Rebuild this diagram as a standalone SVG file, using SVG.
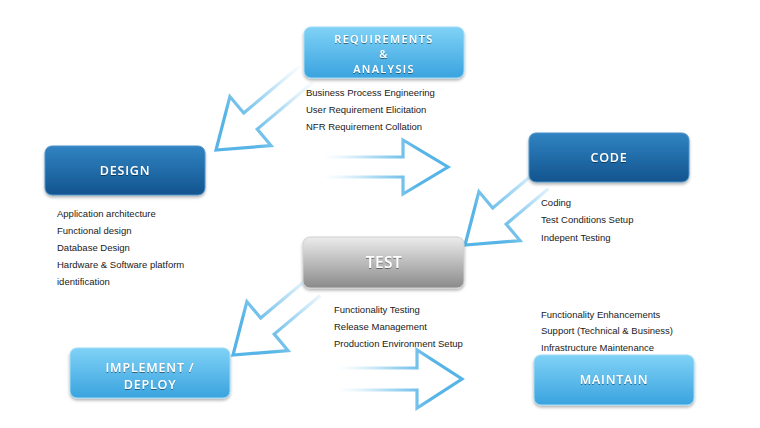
<svg xmlns="http://www.w3.org/2000/svg" width="760" height="428" viewBox="0 0 760 428">
<defs>
<linearGradient id="gLight" x1="0" y1="0" x2="0" y2="1">
<stop offset="0" stop-color="#7fd2f6"/><stop offset="1" stop-color="#3aa3df"/>
</linearGradient>
<linearGradient id="gDark" x1="0" y1="0" x2="0" y2="1">
<stop offset="0" stop-color="#3183c2"/><stop offset="1" stop-color="#12548e"/>
</linearGradient>
<linearGradient id="gGray" x1="0" y1="0" x2="0" y2="1">
<stop offset="0" stop-color="#ececec"/><stop offset="1" stop-color="#8a8a8a"/>
</linearGradient>
<linearGradient id="gArrow" gradientUnits="userSpaceOnUse" x1="-125" y1="0" x2="-30" y2="0">
<stop offset="0" stop-color="#d6eefa" stop-opacity="0"/><stop offset="0.5" stop-color="#b4def5"/><stop offset="1" stop-color="#56b4e6"/>
</linearGradient>
<filter id="sh" x="-10%" y="-20%" width="120%" height="150%">
<feDropShadow dx="0" dy="2" stdDeviation="1.5" flood-color="#000" flood-opacity="0.3"/>
</filter>
<filter id="tsh" x="-10%" y="-30%" width="120%" height="160%">
<feDropShadow dx="0" dy="1" stdDeviation="0.6" flood-color="#000" flood-opacity="0.45"/>
</filter>
</defs>
<style>
.light{fill:url(#gLight);stroke:#9fdcf8;stroke-width:1}
.dark{fill:url(#gDark);stroke:#4a93cc;stroke-width:1}
.gray{fill:url(#gGray);stroke:#d0d0d0;stroke-width:1}
.t{font-family:"Open Sans","DejaVu Sans",sans-serif;font-weight:600;font-size:12.5px;letter-spacing:0.8px;fill:#fff;text-anchor:middle}
.ts{font-size:11px;letter-spacing:1.3px}
.b{font-family:"Liberation Sans",Arial,sans-serif;font-size:9.5px;fill:#1a1a1a}
.arr{fill:none;stroke:url(#gArrow);stroke-width:3.2;stroke-linejoin:miter}
</style>
<rect width="760" height="428" fill="#fff"/>

<g id="connectors">
<g transform="translate(216,150) rotate(140)"><path class="arr" d="M-118,-10.5 L-45,-10.5 L-45,-32 L0,0 L-45,32 L-45,10.5 L-118,10.5"/></g>
<g transform="translate(448,167)"><path class="arr" d="M-128,-10 L-45,-10 L-45,-27 L0,0 L-45,27 L-45,10 L-128,10"/></g>
<g transform="translate(465,245) rotate(140)"><path class="arr" d="M-100,-10.5 L-45,-10.5 L-45,-32 L0,0 L-45,32 L-45,10.5 L-100,10.5"/></g>
<g transform="translate(233,355) rotate(140)"><path class="arr" d="M-105,-10.5 L-45,-10.5 L-45,-32 L0,0 L-45,32 L-45,10.5 L-105,10.5"/></g>
<g transform="translate(462,379)"><path class="arr" d="M-144,-11 L-45,-11 L-45,-29 L0,0 L-45,29 L-45,11 L-144,11"/></g>
</g>

<g id="requirements">
<rect class="light" x="304" y="27" width="160" height="51" rx="7" filter="url(#sh)"/>
<g filter="url(#tsh)">
<text class="t ts" x="384" y="43">REQUIREMENTS</text>
<text class="t ts" x="384" y="58">&amp;</text>
<text class="t ts" x="384" y="73">ANALYSIS</text>
</g>
<text class="b" x="306" y="96">Business Process Engineering</text>
<text class="b" x="306" y="113">User Requirement  Elicitation</text>
<text class="b" x="306" y="130">NFR Requirement  Collation</text>
</g>

<g id="design">
<rect class="dark" x="45" y="146" width="160" height="49" rx="7" filter="url(#sh)"/>
<text class="t" x="125" y="175" filter="url(#tsh)">DESIGN</text>
<text class="b" x="57" y="217">Application architecture</text>
<text class="b" x="57" y="234">Functional  design</text>
<text class="b" x="57" y="251">Database Design</text>
<text class="b" x="57" y="268">Hardware &amp; Software platform</text>
<text class="b" x="57" y="285">identification</text>
</g>

<g id="code">
<rect class="dark" x="529" y="133" width="160" height="49" rx="7" filter="url(#sh)"/>
<text class="t" x="609" y="162" filter="url(#tsh)">CODE</text>
<text class="b" x="541" y="206">Coding</text>
<text class="b" x="541" y="223">Test Conditions Setup</text>
<text class="b" x="541" y="241">Indepent  Testing</text>
</g>

<g id="test">
<rect class="gray" x="303" y="237" width="161" height="51" rx="7" filter="url(#sh)"/>
<text class="t" x="384" y="268" style="font-size:15.5px;letter-spacing:0.5px" filter="url(#tsh)">TEST</text>
<text class="b" x="334" y="313">Functionality  Testing</text>
<text class="b" x="334" y="330">Release Management</text>
<text class="b" x="334" y="347">Production Environment  Setup</text>
</g>

<g id="implement">
<rect class="light" x="70" y="348" width="160" height="50" rx="7" filter="url(#sh)"/>
<g filter="url(#tsh)">
<text class="t" x="150" y="372">IMPLEMENT /</text>
<text class="t" x="150" y="389">DEPLOY</text>
</g>
</g>

<g id="maintain">
<rect class="light" x="534" y="355" width="160" height="50" rx="7" filter="url(#sh)"/>
<text class="t" x="614" y="384" filter="url(#tsh)">MAINTAIN</text>
<text class="b" x="541" y="318">Functionality  Enhancements</text>
<text class="b" x="541" y="334">Support (Technical  &amp; Business)</text>
<text class="b" x="541" y="351">Infrastructure  Maintenance</text>
</g>
</svg>
